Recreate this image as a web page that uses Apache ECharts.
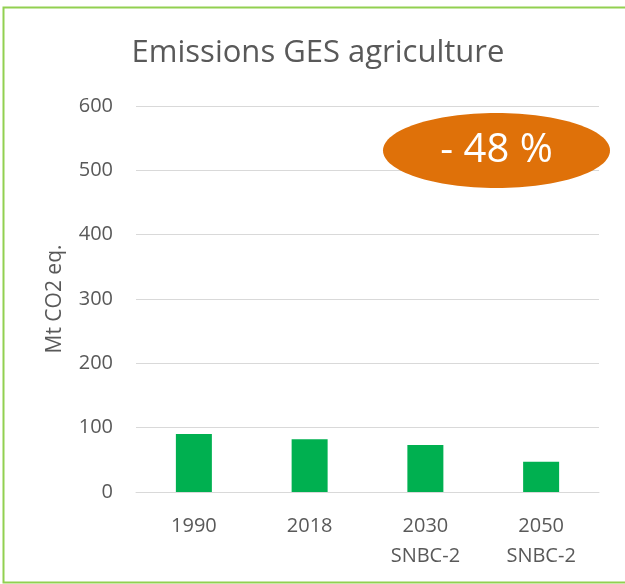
<!DOCTYPE html>
<html>
<head>
<meta charset="utf-8">
<script src="https://cdn.jsdelivr.net/npm/echarts@6/dist/echarts.min.js"></script>
<style>
    html, body { margin: 0; padding: 0; background: #fff; }
    #chart { width: 625px; height: 584px; }
</style>
</head>
<body>
<div id="chart"></div>
<script>
// données
const categories = ['1990', '2018', '2030\nSNBC-2', '2050\nSNBC-2'];
const emissions = [90, 82, 73, 47];
const yTicks = [0, 100, 200, 300, 400, 500, 600];
const badgeText = '- 48 %';

const FONT = '"Open Sans", sans-serif';
const TEXT_COLOR = '#595959';
const GRID_COLOR = '#D9D9D9';

const chart = echarts.init(document.getElementById('chart'));
chart.setOption({
    animation: false,
    title: {
        text: 'Emissions GES agriculture',
        left: 313,
        top: 33,
        textAlign: 'center',
        textStyle: {
            fontFamily: FONT,
            fontSize: 31,
            fontWeight: 'normal',
            color: TEXT_COLOR
        }
    },
    grid: {
        left: 136,
        right: 26,
        top: 106,
        bottom: 92
    },
    xAxis: {
        type: 'category',
        data: categories,
        axisLine: { lineStyle: { color: GRID_COLOR, width: 1 } },
        axisTick: { show: false },
        axisLabel: {
            color: TEXT_COLOR,
            fontFamily: FONT,
            fontSize: 20,
            lineHeight: 30,
            margin: 19
        }
    },
    yAxis: {
        type: 'value',
        min: yTicks[0],
        max: yTicks[yTicks.length - 1],
        interval: 100,
        name: 'Mt CO2 eq.',
        nameLocation: 'middle',
        nameGap: 70,
        nameTextStyle: {
            color: TEXT_COLOR,
            fontFamily: FONT,
            fontSize: 21
        },
        axisLine: { show: false },
        axisTick: { show: false },
        axisLabel: {
            color: TEXT_COLOR,
            fontFamily: FONT,
            fontSize: 20,
            margin: 23
        },
        splitLine: { lineStyle: { color: GRID_COLOR, width: 1 } }
    },
    series: [{
        type: 'bar',
        data: emissions,
        barWidth: 36,
        itemStyle: { color: '#00B050' }
    }],
    graphic: [
        {
            // cadre vert autour du graphique
            type: 'rect',
            shape: { x: 3.5, y: 7.5, width: 640, height: 575 },
            style: { fill: 'none', stroke: '#92D050', lineWidth: 2 },
            z: 10
        },
        {
            type: 'ellipse',
            shape: { cx: 496.5, cy: 150.5, rx: 113.5, ry: 37.5 },
            style: { fill: '#DF7109' },
            z: 10
        },
        {
            type: 'text',
            x: 496.5,
            y: 151,
            style: {
                text: badgeText,
                fill: '#fff',
                font: '40px ' + FONT,
                align: 'center',
                verticalAlign: 'middle'
            },
            z: 11
        }
    ]
});
</script>
</body>
</html>
